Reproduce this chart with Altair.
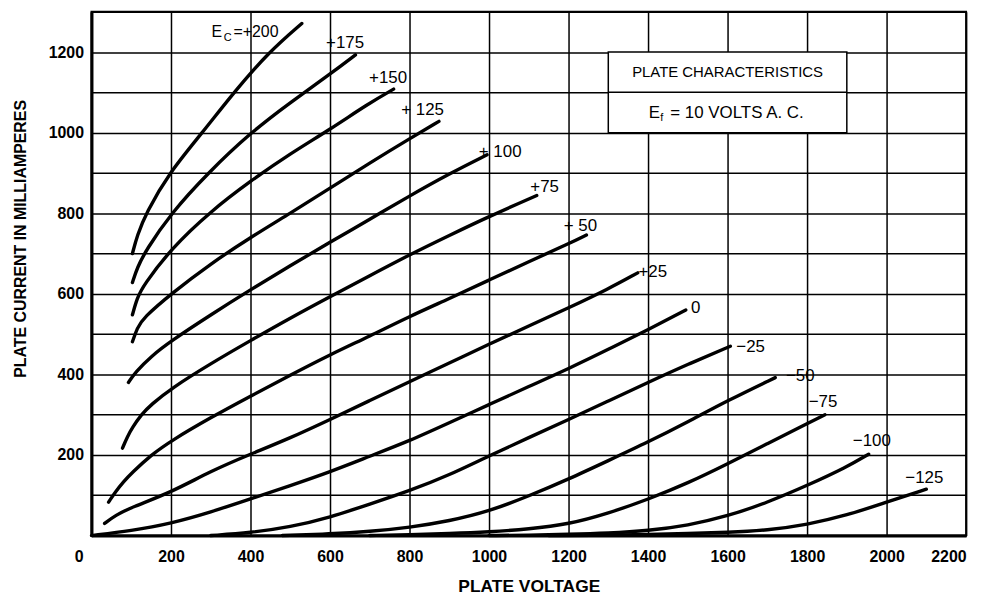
import altair as alt
import pandas as pd

# ---- curve data (plate volts, plate mA) ----
v_p200 = [103, 115, 137, 195, 279, 358, 446, 529]
i_p200 = [700, 745, 800, 900, 1000, 1100, 1200, 1271]

v_p175 = [103, 115, 137, 200, 293, 400, 500, 600, 664]
i_p175 = [628, 665, 708, 800, 900, 1000, 1075, 1145, 1193]

v_p150 = [103, 115, 130, 200, 300, 400, 500, 600, 695, 760]
i_p150 = [548, 590, 620, 712, 805, 880, 948, 1008, 1071, 1108]

v_p125 = [103, 115, 130, 200, 300, 400, 500, 600, 700, 800, 874]
i_p125 = [481, 515, 540, 600, 675, 740, 800, 862, 925, 985, 1028]

v_p100 = [93, 110, 150, 200, 300, 400, 500, 600, 700, 800, 900, 995]
i_p100 = [380, 405, 445, 483, 548, 610, 670, 728, 785, 843, 898, 945]

v_p75 = [78, 90, 103, 125, 150, 200, 300, 400, 500, 600, 700, 800, 900, 1000, 1120]
i_p75 = [217, 245, 268, 300, 325, 365, 427, 484, 540, 593, 645, 697, 745, 792, 844]

v_p50 = [43, 60, 80, 101, 150, 200, 300, 400, 500, 600, 700, 800, 900, 1000, 1100, 1200, 1245]
i_p50 = [83, 108, 133, 155, 200, 235, 293, 346, 398, 449, 495, 544, 588, 634, 680, 724, 746]

v_p25 = [33, 60, 100, 200, 300, 400, 500, 600, 700, 800, 900, 1000, 1100, 1200, 1300, 1374]
i_p25 = [30, 50, 70, 107, 160, 202, 242, 288, 335, 382, 428, 475, 520, 565, 612, 652]

v_0 = [0, 100, 200, 300, 400, 500, 600, 700, 800, 900, 1000, 1100, 1200, 1300, 1400, 1495]
i_0 = [0, 12, 30, 58, 91, 124, 158, 197, 235, 280, 325, 370, 414, 462, 511, 560]

v_m25 = [300, 400, 500, 600, 700, 800, 900, 1000, 1100, 1200, 1300, 1400, 1500, 1607]
i_m25 = [0, 7, 21, 45, 78, 111, 150, 198, 243, 288, 334, 380, 425, 470]

v_m50 = [480, 600, 700, 800, 900, 1000, 1100, 1200, 1300, 1400, 1500, 1600, 1720]
i_m50 = [0, 4, 10, 20, 36, 60, 98, 140, 186, 232, 282, 335, 392]

v_m75 = [700, 800, 900, 1000, 1100, 1200, 1300, 1400, 1500, 1600, 1700, 1800, 1845]
i_m75 = [0, 2, 5, 9, 16, 28, 55, 90, 130, 178, 228, 278, 300]

v_m100 = [1000, 1100, 1200, 1300, 1400, 1500, 1600, 1700, 1800, 1900, 1955]
i_m100 = [0, 1, 3, 6, 12, 25, 48, 82, 124, 170, 202]

v_m125 = [1150, 1300, 1400, 1500, 1600, 1700, 1800, 1900, 2000, 2100]
i_m125 = [0, 1, 3, 5, 8, 13, 27, 50, 83, 115]

curves = {
    "+200": (v_p200, i_p200), "+175": (v_p175, i_p175), "+150": (v_p150, i_p150),
    "+125": (v_p125, i_p125), "+100": (v_p100, i_p100), "+75": (v_p75, i_p75),
    "+50": (v_p50, i_p50), "+25": (v_p25, i_p25), "0": (v_0, i_0),
    "-25": (v_m25, i_m25), "-50": (v_m50, i_m50), "-75": (v_m75, i_m75),
    "-100": (v_m100, i_m100), "-125": (v_m125, i_m125),
}

# ---- curve labels ----
lab_text = ["+175", "+150", "+ 125", "+ 100", "+75", "+ 50", "+25", "0",
            "\u221225", "\u221250", "\u221275", "\u2212100", "\u2212125"]
lab_v = [638, 746, 833, 1028, 1140, 1230, 1412, 1520, 1658, 1783, 1840, 1963, 2095]
lab_i = [1222, 1136, 1057, 951, 864, 768, 654, 565, 467, 395, 331, 234, 143]

# E_c = +200 label pieces
ec_text = ["E", "=+200"]
ec_v = [302, 357]
ec_i = [1249, 1249]
sub_text = ["C", "f"]
sub_v = [333, 1431]
sub_i = [1236, 1037]

# info box
box_v = [1300]
box_v2 = [1900]
box_i = [1000]
box_i2 = [1200]
info_text = ["PLATE CHARACTERISTICS"]
info_v = [1600]
info_i = [1150]
ef_text = ["E", "= 10 VOLTS A. C."]
ef_v = [1402, 1456]
ef_i = [1049, 1049]

x_ticks = list(range(0, 2201, 100))
y_ticks = list(range(0, 1301, 100))

rows = []
for name, (vs, cs) in curves.items():
    for v, c in zip(vs, cs):
        rows.append({"ec": name, "v": v, "i": c})
df = pd.DataFrame(rows)

FONT = "Liberation Sans"

xscale = alt.Scale(domain=[0, 2200], nice=False, zero=False)
yscale = alt.Scale(domain=[0, 1300], nice=False, zero=False)

x_axis = alt.Axis(
    values=x_ticks, format="d", grid=True, gridColor="black", gridWidth=1.5, gridOpacity=1,
    labelExpr="datum.value % 200 == 0 ? datum.label : ''",
    labelFont=FONT, labelFontWeight="bold", labelFontSize=16, labelColor="black",
    labelPadding=13, ticks=False, tickSize=0, domainColor="black", domainWidth=3,
    labelOffset={"condition": {"test": "datum.value === 0", "value": -13}, "value": 0},
    labelAlign={"condition": {"test": "datum.value === 2200", "value": "right"}, "value": "center"},
    labelFlush=False, labelOverlap=False,
    title="PLATE VOLTAGE", titleFont=FONT, titleFontWeight="bold", titleFontSize=17.5,
    titleColor="black", titleY=51, titleBaseline="middle",
)
y_axis = alt.Axis(
    values=y_ticks, format="d", grid=True, gridColor="black", gridWidth=1.5, gridOpacity=1,
    labelExpr="(datum.value % 200 == 0 && datum.value > 0) ? datum.label : ''",
    labelFont=FONT, labelFontWeight="bold", labelFontSize=16, labelColor="black",
    labelPadding=8, ticks=False, tickSize=0, domainColor="black", domainWidth=3,
    labelFlush=False, labelOverlap=False,
    title="PLATE CURRENT IN MILLIAMPERES", titleFont=FONT, titleFontWeight="bold",
    titleFontSize=16, titleColor="black", titleAngle=270, titleX=-71, titleY=228,
    titleAlign="center", titleBaseline="middle",
)

lines = alt.Chart(df).mark_line(color="black", strokeWidth=3.4, interpolate="basis",
                                strokeCap="round").encode(
    x=alt.X("v:Q", scale=xscale, axis=x_axis),
    y=alt.Y("i:Q", scale=yscale, axis=y_axis),
    detail="ec:N",
)

box_df = pd.DataFrame({"v": box_v, "v2": box_v2, "i": box_i, "i2": box_i2})
box = alt.Chart(box_df).mark_rect(fill="white", stroke="black", strokeWidth=1.5).encode(
    x="v:Q", x2="v2:Q", y="i:Q", y2="i2:Q")
mid_df = pd.DataFrame({"v": box_v, "v2": box_v2, "i": [(a + b) / 2 for a, b in zip(box_i, box_i2)]})
midrule = alt.Chart(mid_df).mark_rule(color="black", strokeWidth=1.5).encode(
    x="v:Q", x2="v2:Q", y="i:Q")

lab_df = pd.DataFrame({"t": lab_text, "v": lab_v, "i": lab_i})
labels = alt.Chart(lab_df).mark_text(font=FONT, fontSize=17, color="black",
                                     align="center", baseline="middle").encode(
    x="v:Q", y="i:Q", text="t:N")

ec_df = pd.DataFrame({"t": ec_text, "v": ec_v, "i": ec_i})
ec_lab = alt.Chart(ec_df).mark_text(font=FONT, fontSize=16, color="black",
                                    align="left", baseline="middle").encode(
    x="v:Q", y="i:Q", text="t:N")
sub_df = pd.DataFrame({"t": sub_text, "v": sub_v, "i": sub_i})
sub_lab = alt.Chart(sub_df).mark_text(font=FONT, fontSize=11, color="black",
                                      align="left", baseline="middle").encode(
    x="v:Q", y="i:Q", text="t:N")

info_df = pd.DataFrame({"t": info_text, "v": info_v, "i": info_i})
info_lab = alt.Chart(info_df).mark_text(font=FONT, fontSize=15, color="black",
                                        align="center", baseline="middle").encode(
    x="v:Q", y="i:Q", text="t:N")
ef_df = pd.DataFrame({"t": ef_text, "v": ef_v, "i": ef_i})
ef_lab = alt.Chart(ef_df).mark_text(font=FONT, fontSize=17, color="black",
                                    align="left", baseline="middle").encode(
    x="v:Q", y="i:Q", text="t:N")

chart = alt.layer(lines, box, midrule, labels, ec_lab, sub_lab, info_lab, ef_lab).properties(
    width=880, height=527,
    autosize=alt.AutoSizeParams(type="none"),
    padding={"left": 84, "top": 2, "right": 14, "bottom": 58},
    background="white",
).configure_view(stroke="black", strokeWidth=2)

chart.save("out.html", embed_options={"renderer": "svg", "actions": False})
